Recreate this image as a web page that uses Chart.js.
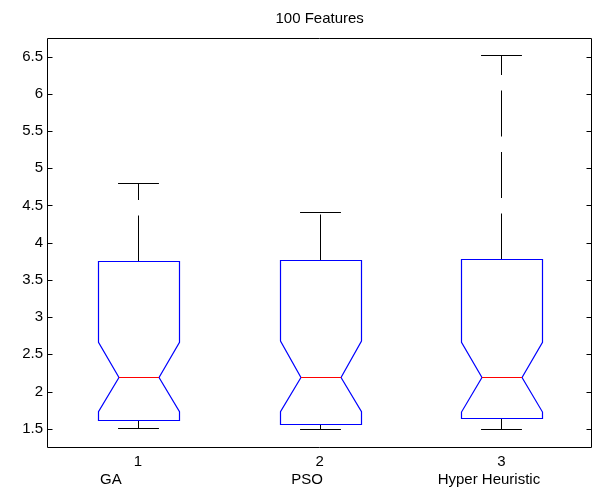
<!DOCTYPE html>
<html>
<head>
<meta charset="utf-8">
<script src="https://cdn.jsdelivr.net/npm/chart.js@4/dist/chart.umd.min.js"></script>
<style>
html,body{margin:0;padding:0;background:#fff;}
#wrap{width:597px;height:493px;}
</style>
</head>
<body>
<div id="wrap"><canvas id="c" width="597" height="493"></canvas></div>
<script>
const titleText = '100 Features';
const categories = ['1', '2', '3'];
const groupNames = ['GA             ', 'PSO      ', 'Hyper Heuristic      '];
const whiskerLow  = [1.513, 1.500, 1.500];
const q1          = [1.617, 1.563, 1.640];
const notchLow    = [1.730, 1.730, 1.724];
const medians     = [2.190, 2.190, 2.190];
const notchHigh   = [2.661, 2.679, 2.661];
const q3          = [3.754, 3.767, 3.785];
const whiskerHigh = [4.800, 4.413, 6.519];
const yTicks = [1.5, 2, 2.5, 3, 3.5, 4, 4.5, 5, 5.5, 6, 6.5];
const yMin = 1.245, yMax = 6.755;

const FONT = "'Liberation Sans', Arial, sans-serif";

const boxPlugin = {
  id: 'notchedBox',
  afterDatasetsDraw(chart) {
    const ctx = chart.ctx, xs = chart.scales.x, ys = chart.scales.y;
    const step = xs.getPixelForValue(1) - xs.getPixelForValue(0);
    const half = step * 0.225;
    const indent = half / 2;
    const capHalf = half / 2;
    const snap = v => Math.round(v) + 0.5;
    ctx.save();
    ctx.lineWidth = 1.2;
    for (let i = 0; i < categories.length; i++) {
      const cx = snap(xs.getPixelForValue(i));
      const L = snap(cx - half), R = snap(cx + half);
      const yq1 = snap(ys.getPixelForValue(q1[i]));
      const yq3 = snap(ys.getPixelForValue(q3[i]));
      const ynl = ys.getPixelForValue(notchLow[i]);
      const ynh = ys.getPixelForValue(notchHigh[i]);
      const ym = snap(ys.getPixelForValue(medians[i]));
      const ywl = snap(ys.getPixelForValue(whiskerLow[i]));
      const ywh = snap(ys.getPixelForValue(whiskerHigh[i]));
      // whiskers (dashed)
      ctx.strokeStyle = '#000000';
      ctx.lineWidth = 1;
      ctx.setLineDash([46, 15.5]);
      ctx.lineDashOffset = 0;
      ctx.beginPath(); ctx.moveTo(cx, yq3); ctx.lineTo(cx, ywh); ctx.stroke();
      ctx.beginPath(); ctx.moveTo(cx, yq1); ctx.lineTo(cx, ywl); ctx.stroke();
      ctx.setLineDash([]);
      // caps
      ctx.beginPath();
      ctx.moveTo(cx - capHalf, ywh); ctx.lineTo(cx + capHalf, ywh);
      ctx.moveTo(cx - capHalf, ywl); ctx.lineTo(cx + capHalf, ywl);
      ctx.stroke();
      // notched box
      ctx.lineWidth = 1.2;
      ctx.strokeStyle = '#0000ff';
      ctx.beginPath();
      ctx.moveTo(L, yq3);
      ctx.lineTo(L, ynh);
      ctx.lineTo(L + indent, ym);
      ctx.lineTo(L, ynl);
      ctx.lineTo(L, yq1);
      ctx.lineTo(R, yq1);
      ctx.lineTo(R, ynl);
      ctx.lineTo(R - indent, ym);
      ctx.lineTo(R, ynh);
      ctx.lineTo(R, yq3);
      ctx.closePath();
      ctx.stroke();
      // median
      ctx.strokeStyle = '#ff0000';
      ctx.lineWidth = 1;
      ctx.beginPath(); ctx.moveTo(L + indent, ym); ctx.lineTo(R - indent, ym); ctx.stroke();
    }
    ctx.restore();
  },
  afterDraw(chart) {
    const ctx = chart.ctx, a = chart.chartArea, ys = chart.scales.y;
    const l = Math.round(a.left) + 0.5, r = Math.round(a.right) - 0.5;
    const t = Math.round(a.top) + 0.5, b = Math.round(a.bottom) - 0.5;
    ctx.save();
    ctx.strokeStyle = '#000000';
    ctx.lineWidth = 1;
    ctx.beginPath();
    ctx.rect(l, t, r - l, b - t);
    yTicks.forEach(v => {
      const y = Math.round(ys.getPixelForValue(v)) + 0.5;
      ctx.moveTo(l, y); ctx.lineTo(l + 5, y);
      ctx.moveTo(r, y); ctx.lineTo(r - 5, y);
    });
    ctx.stroke();
    ctx.restore();
  }
};

new Chart(document.getElementById('c'), {
  type: 'line',
  data: {
    labels: categories.map((c, i) => [c, groupNames[i]]),
    datasets: [{
      data: medians,
      showLine: false,
      pointRadius: 0,
      pointHoverRadius: 0
    }]
  },
  options: {
    responsive: false,
    animation: false,
    events: [],
    layout: { padding: { left: 0, right: 4.7, top: 0, bottom: 0 } },
    plugins: {
      legend: { display: false },
      tooltip: { enabled: false },
      title: {
        display: true,
        fullSize: false,
        text: titleText,
        color: '#000',
        font: { family: FONT, size: 15, weight: 'normal' },
        padding: { top: 9.5, bottom: 10.2 }
      }
    },
    scales: {
      x: {
        type: 'category',
        offset: true,
        grid: { display: false, drawTicks: false },
        border: { display: false },
        ticks: {
          color: '#000',
          font: { family: FONT, size: 15 },
          padding: 5,
          maxRotation: 0,
          autoSkip: false
        },
        afterFit(s) { s.height = 45.3; }
      },
      y: {
        type: 'linear',
        min: yMin,
        max: yMax,
        grid: { display: false, drawTicks: false },
        border: { display: false },
        afterBuildTicks(s) { s.ticks = yTicks.map(v => ({ value: v })); },
        ticks: {
          color: '#000',
          font: { family: FONT, size: 15 },
          padding: 4,
          callback: v => String(v)
        },
        afterFit(s) { s.width = 47; }
      }
    }
  },
  plugins: [boxPlugin]
});
</script>
</body>
</html>
